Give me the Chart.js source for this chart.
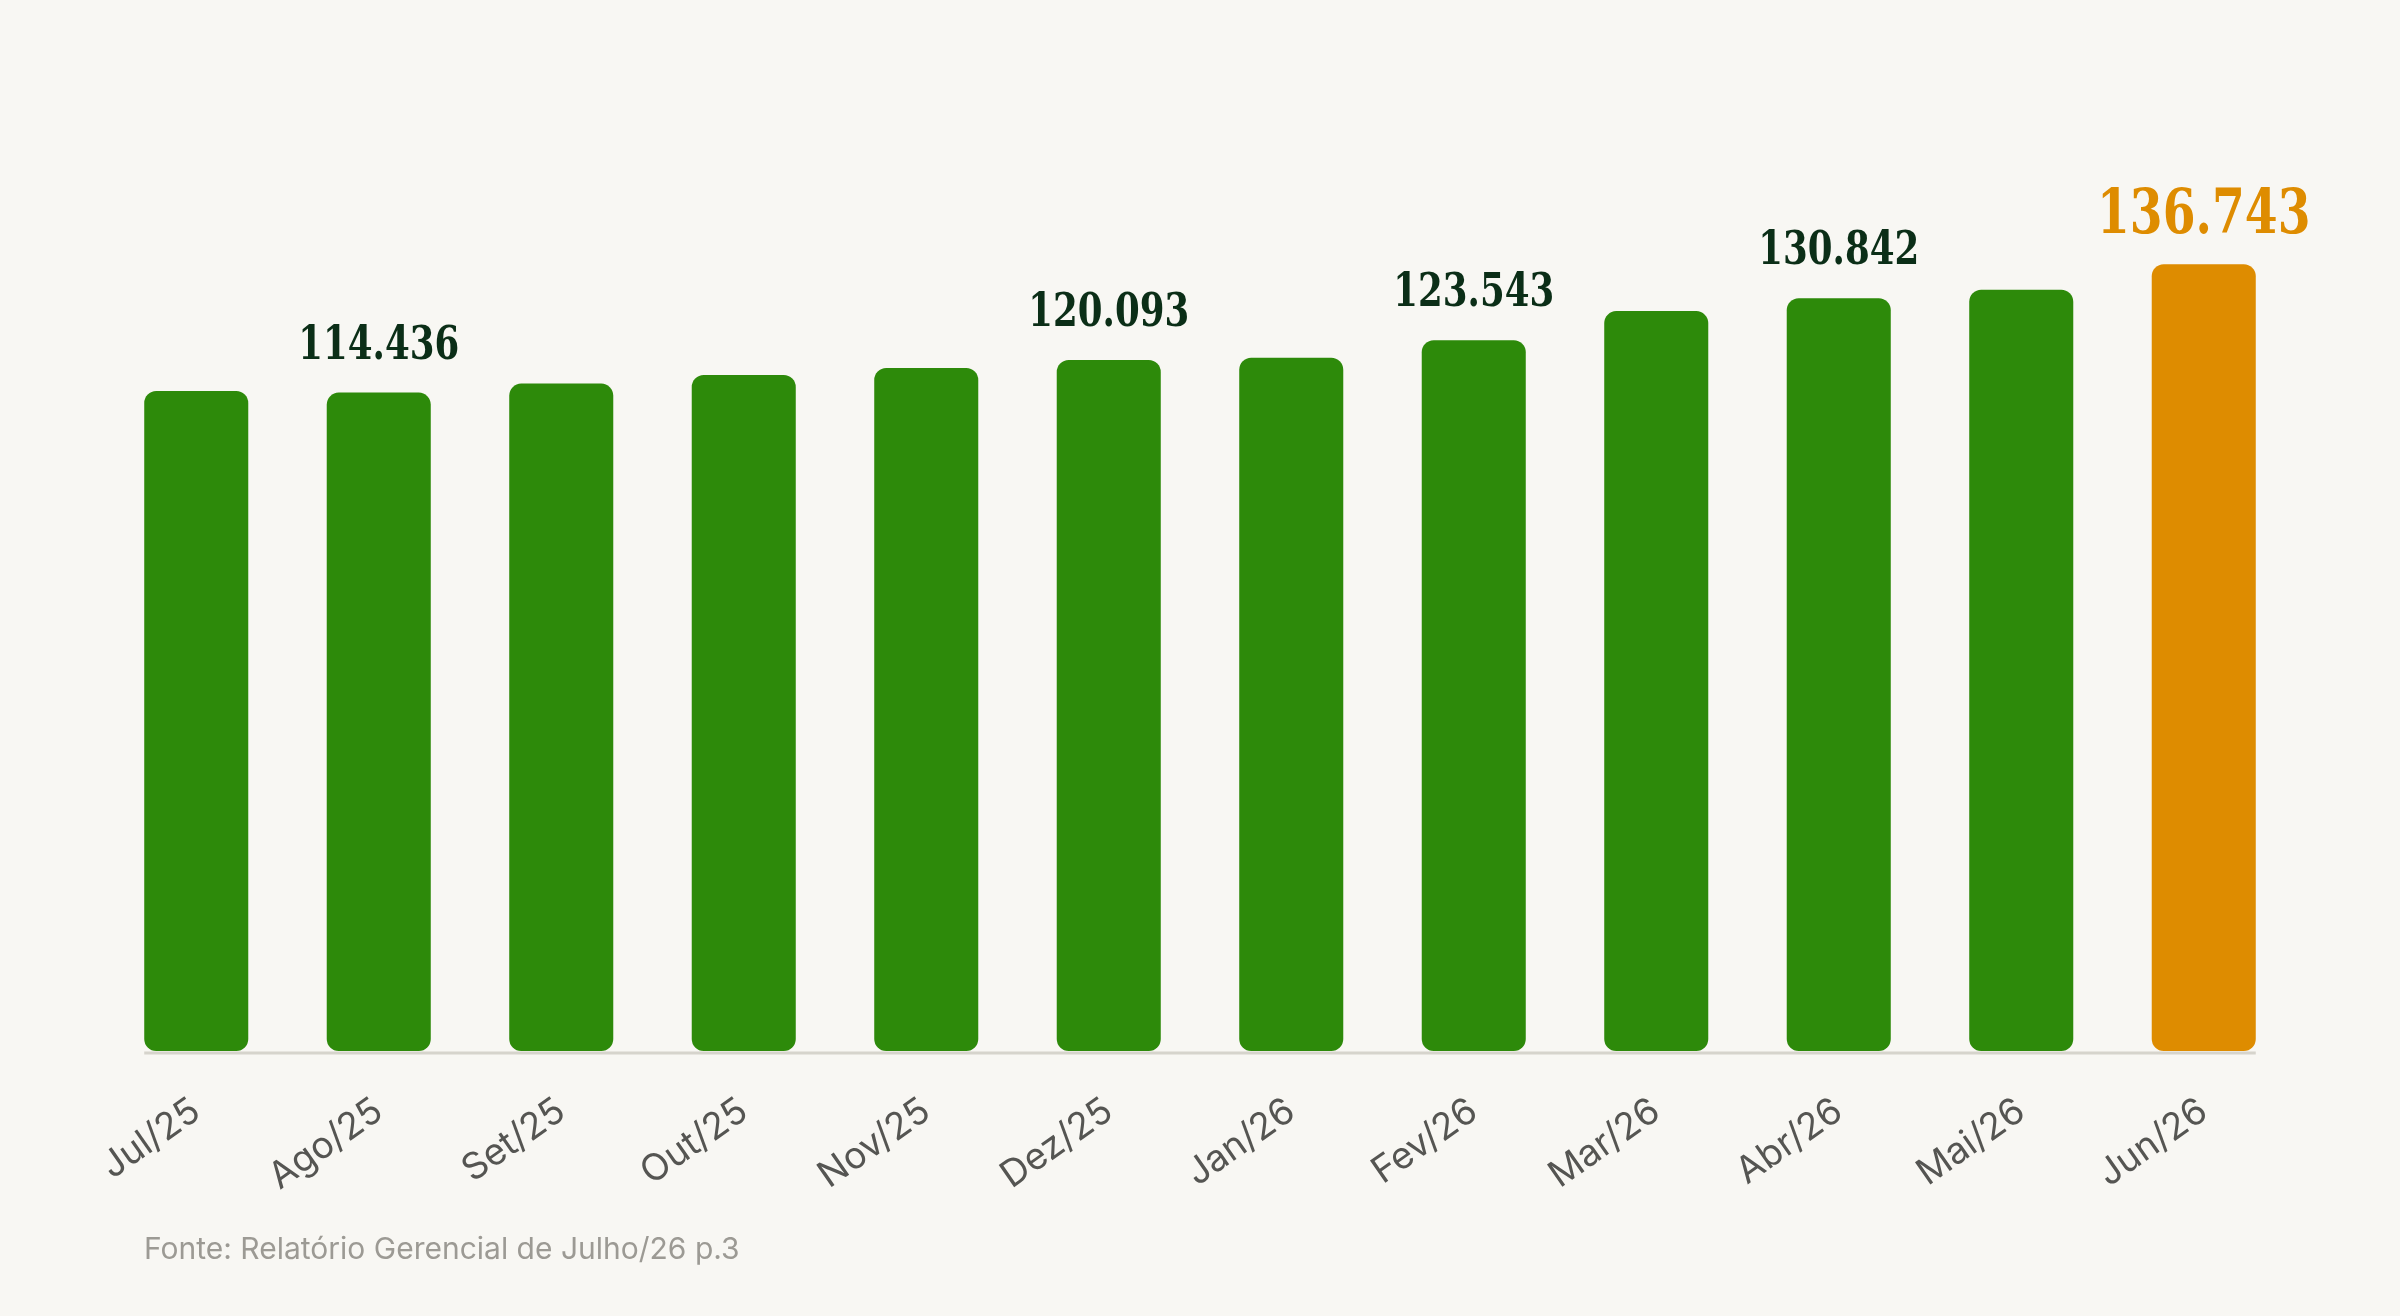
<!DOCTYPE html>
<html lang="pt-BR">
<head>
<meta charset="utf-8">
<title>Evolução mensal</title>
<script src="https://cdn.jsdelivr.net/npm/chart.js@4.4.1/dist/chart.umd.min.js"></script>
<style>
  html, body { margin: 0; padding: 0; background: #f8f7f3; }
  #wrap { position: relative; width: 2400px; height: 1316px; }
  #fonte {
    position: absolute; left: 144px; top: 1231px;
    font-family: Inter, "Noto Sans", sans-serif; font-size: 30px; line-height: 34px;
    color: #9c9a94;
  }
</style>
</head>
<body>
<div id="wrap">
  <canvas id="chart-1"></canvas>
  <div id="fonte">Fonte: Relatório Gerencial de Julho/26 p.3</div>
</div>
<script>
const months = ['Jul/25', 'Ago/25', 'Set/25', 'Out/25', 'Nov/25', 'Dez/25',
                'Jan/26', 'Fev/26', 'Mar/26', 'Abr/26', 'Mai/26', 'Jun/26'];
const values = [114700, 114436, 116000, 117500, 118700, 120093,
                120500, 123543, 128600, 130842, 132300, 136743];
// which bars get a number above them
const showValue = [false, true, false, false, false, true,
                   false, true, false, true, false, true];

const GREEN = '#2d8a0a';
const ORANGE = '#de8c00';
const last = values.length - 1;

const valueLabels = {
  id: 'valueLabels',
  afterDatasetsDraw(chart) {
    const ctx = chart.ctx;
    const bars = chart.getDatasetMeta(0).data;
    bars.forEach((bar, i) => {
      if (!showValue[i]) return;
      const isLast = i === last;
      const size = isLast ? 61 : 46;
      const txt = values[i].toLocaleString('pt-BR');
      ctx.save();
      ctx.font = 'bold ' + size + 'px "DejaVu Serif", serif';
      ctx.fillStyle = isLast ? ORANGE : '#0b2e17';
      ctx.textAlign = 'center';
      ctx.textBaseline = 'alphabetic';
      // squeeze the serif face to a condensed slab width
      const sx = Math.min(1, (3.5 * size) / ctx.measureText(txt).width);
      ctx.translate(bar.x, bar.y - (isLast ? 31 : 34));
      ctx.scale(sx, 1);
      ctx.fillText(txt, 0, 0);
      ctx.restore();
    });
  }
};

// light baseline under the bars, from first bar edge to last bar edge
const baseLine = {
  id: 'baseLine',
  beforeDatasetsDraw(chart) {
    const bars = chart.getDatasetMeta(0).data;
    const a = bars[0], b = bars[bars.length - 1];
    const ctx = chart.ctx;
    ctx.save();
    ctx.strokeStyle = '#d6d4cc';
    ctx.lineWidth = 3;
    ctx.beginPath();
    ctx.moveTo(a.x - a.width / 2, chart.chartArea.bottom + 2);
    ctx.lineTo(b.x + b.width / 2, chart.chartArea.bottom + 2);
    ctx.stroke();
    ctx.restore();
  }
};

new Chart(document.getElementById('chart-1').getContext('2d'), {
  type: 'bar',
  data: {
    labels: months,
    datasets: [{
      data: values,
      backgroundColor: values.map((v, i) => i === last ? ORANGE : GREEN),
      borderRadius: 12,
      borderSkipped: false,
      barPercentage: 0.57,
      categoryPercentage: 1
    }]
  },
  options: {
    responsive: true,
    maintainAspectRatio: false,
    animation: false,
    layout: { padding: { top: 188, left: 105, right: 105, bottom: 0 } },
    plugins: {
      legend: { display: false },
      tooltip: { enabled: false }
    },
    scales: {
      x: {
        grid: { display: false, drawTicks: false },
        border: { display: false },
        ticks: {
          color: '#555552',
          font: { family: 'Inter', size: 37 },
          minRotation: 35,
          maxRotation: 35,
          padding: 38
        },
        afterFit(scale) { scale.height = 265; }
      },
      y: {
        display: false,
        min: 0,
        max: 150000
      }
    }
  },
  plugins: [baseLine, valueLabels]
});
</script>
</body>
</html>
